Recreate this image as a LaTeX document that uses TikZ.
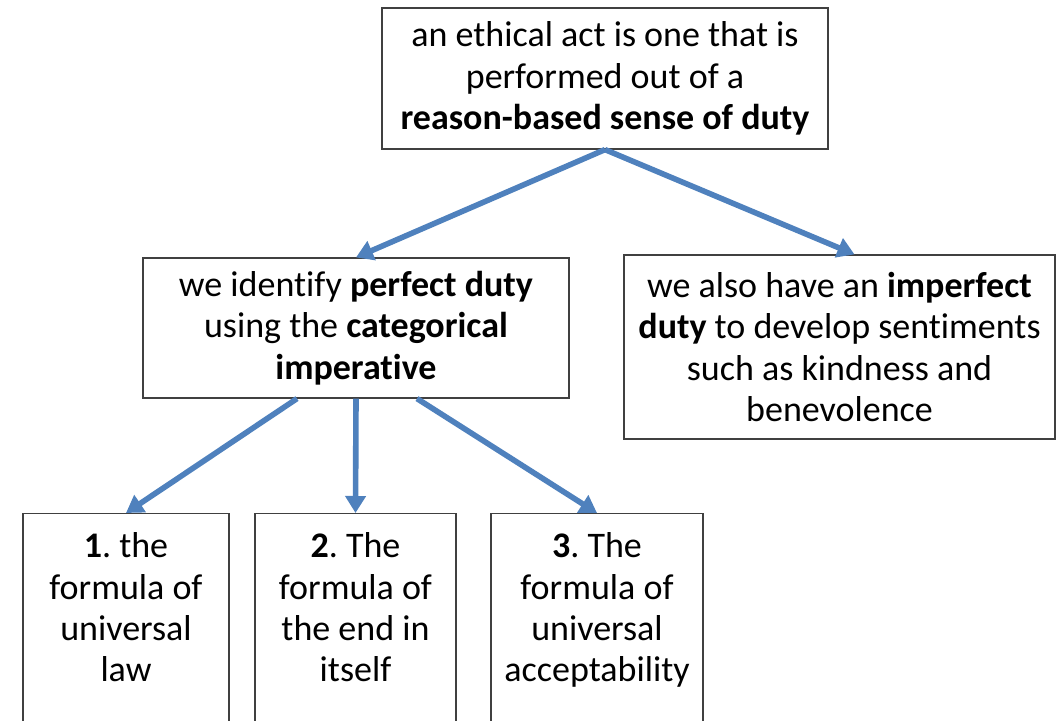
\documentclass[tikz,border=0pt]{standalone}
\usepackage{fontspec}
\setmainfont{Carlito}[Ligatures=CommonOff]
\frenchspacing
\usetikzlibrary{positioning,arrows.meta}
\definecolor{arrowblue}{RGB}{79,129,189}

\begin{document}
\begin{tikzpicture}[x=0.5pt, y=-0.5pt,
    idea/.style={draw=black!75, line width=0.6pt, align=center, inner sep=0pt,
        font=\fontsize{18}{20.7}\selectfont},
    formula/.style={idea, anchor=north, inner ysep=9.5pt, text depth=150pt},
    link/.style={draw=arrowblue, line width=2.8pt, -{Triangle[width=10pt,length=8.5pt]}}]
        \clip (0,0) rectangle (1064,721);

        % Nodes
        \node[idea, minimum width=223pt, minimum height=70.5pt] (act) at (605,78.5)
            {an ethical act is one that is\\ performed out of a\\ \textbf{reason-based sense of duty}};
        \node[idea, minimum width=213pt, minimum height=70pt] (perfect) at (356,328)
            {we identify \textbf{perfect duty}\\ using the \textbf{categorical}\\ \textbf{imperative}};
        \node[idea, minimum width=215.5pt, minimum height=92pt] (imperfect) at (839.5,347)
            {we also have an \textbf{imperfect}\\ \textbf{duty} to develop sentiments\\ such as kindness and\\ benevolence};
        \node[formula, minimum width=103pt] (law) at (126,513)
            {\textbf{1}. the\\ formula of\\ universal\\ law};
        \node[formula, minimum width=100.5pt] (end) at (355.5,513)
            {\textbf{2}. The\\ formula of\\ the end in\\ itself};
        \node[formula, minimum width=106pt] (accept) at (597,513)
            {\textbf{3}. The\\ formula of\\ universal\\ acceptability};

        % Arrows
        \draw[link] (act.south) -- (perfect.north);
        \draw[link] (act.south) -- ([xshift=7.5pt]imperfect.north);
        \draw[link] ([xshift=-29.5pt]perfect.south) -- (law.north);
        \draw[link] (perfect.south) -- (end.north);
        \draw[link] ([xshift=30.5pt]perfect.south) -- (accept.north);
    \end{tikzpicture}
\end{document}
